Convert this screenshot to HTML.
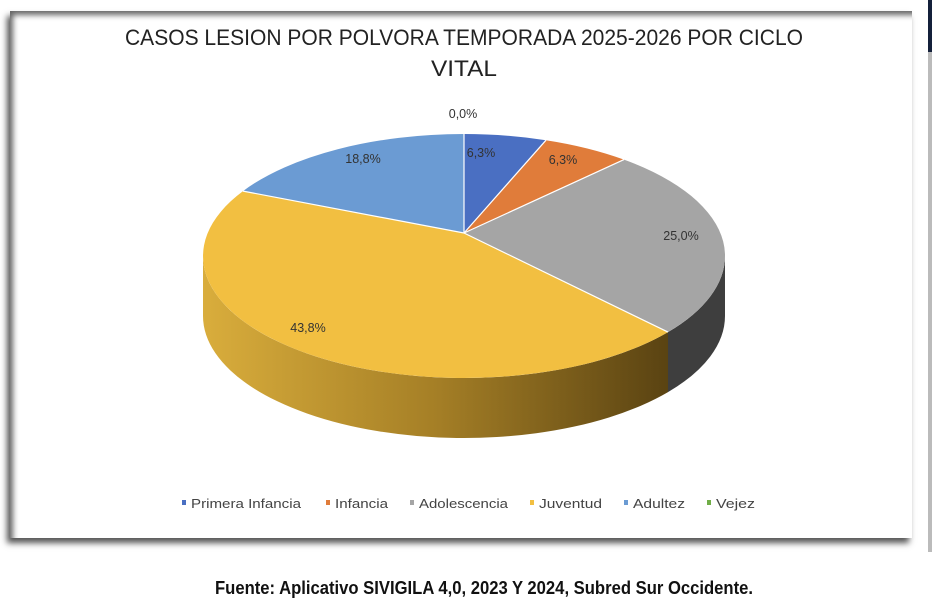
<!DOCTYPE html>
<html><head><meta charset="utf-8"><style>
html,body{margin:0;padding:0;background:#fff;width:932px;height:612px;overflow:hidden;position:relative;font-family:"Liberation Sans",sans-serif}
#frame{position:absolute;left:10px;top:11px;width:902px;height:527px;background:#fff;
box-shadow:inset 6px 7px 6px -3px #666, -3px 5px 6px #555;}
#strip{position:absolute;left:928px;top:0;width:4px;height:52px;background:#14203a}
#strip2{position:absolute;left:928px;top:52px;width:4px;height:500px;background:#bbb}
svg{position:absolute;left:0;top:0}
</style></head><body>
<div id="frame"></div><div id="strip"></div><div id="strip2"></div>
<svg width="932" height="612" viewBox="0 0 932 612">
<defs>
<linearGradient id="yg" x1="203" y1="0" x2="668" y2="0" gradientUnits="userSpaceOnUse">
<stop offset="0" stop-color="#d9ad3c"/><stop offset="0.5" stop-color="#a57f26"/><stop offset="1" stop-color="#5a4312"/>
</linearGradient>
</defs>
<text x="464" y="45" text-anchor="middle" font-size="22" fill="#222" textLength="678" lengthAdjust="spacingAndGlyphs">CASOS LESION POR POLVORA TEMPORADA 2025-2026 POR CICLO</text>
<text x="464" y="76" text-anchor="middle" font-size="22" fill="#222" textLength="66" lengthAdjust="spacingAndGlyphs">VITAL</text>
<path d="M725,256 A261,122 0 0 1 668,332.1 L668,392.1 A261,122 0 0 0 725,316 Z" fill="#3e3e3e"/>
<path d="M668,332.1 A261,122 0 0 1 203,256 L203,316 A261,122 0 0 0 668,392.1 Z" fill="url(#yg)"/>
<path d="M464,233 L464,134 A261,122 0 0 1 546,140.2 Z" fill="#4a6fc2"/>
<path d="M464,233 L546,140.2 A261,122 0 0 1 624,159.6 Z" fill="#e07c3a"/>
<path d="M464,233 L624,159.6 A261,122 0 0 1 668,332.1 Z" fill="#a5a5a5"/>
<path d="M464,233 L668,332.1 A261,122 0 0 1 243,191.1 Z" fill="#f2bf41"/>
<path d="M464,233 L243,191.1 A261,122 0 0 1 464,134 Z" fill="#6b9bd3"/>
<g stroke="#fff" stroke-width="1.2">
<line x1="464" y1="233" x2="464" y2="134"/><line x1="464" y1="233" x2="546" y2="140.2"/>
<line x1="464" y1="233" x2="624" y2="159.6"/><line x1="464" y1="233" x2="668" y2="332.1"/>
<line x1="464" y1="233" x2="243" y2="191.1"/>
</g>
<g font-size="12.5" fill="#333" text-anchor="middle">
<text x="463" y="118">0,0%</text>
<text x="481" y="157">6,3%</text>
<text x="563" y="164">6,3%</text>
<text x="681" y="240">25,0%</text>
<text x="308" y="332">43,8%</text>
<text x="363" y="163">18,8%</text>
</g>
<g font-size="13" fill="#444">
<rect x="182" y="500" width="4" height="5" fill="#4a6fc2"/><text x="191" y="508" textLength="110" lengthAdjust="spacingAndGlyphs">Primera Infancia</text>
<rect x="326" y="500" width="4" height="5" fill="#e07c3a"/><text x="335" y="508" textLength="53" lengthAdjust="spacingAndGlyphs">Infancia</text>
<rect x="410" y="500" width="4" height="5" fill="#a5a5a5"/><text x="419" y="508" textLength="89" lengthAdjust="spacingAndGlyphs">Adolescencia</text>
<rect x="530" y="500" width="4" height="5" fill="#f2bf41"/><text x="539" y="508" textLength="63" lengthAdjust="spacingAndGlyphs">Juventud</text>
<rect x="624" y="500" width="4" height="5" fill="#6b9bd3"/><text x="633" y="508" textLength="52" lengthAdjust="spacingAndGlyphs">Adultez</text>
<rect x="707" y="500" width="4" height="5" fill="#70ad47"/><text x="716" y="508" textLength="39" lengthAdjust="spacingAndGlyphs">Vejez</text>
</g>
<text x="484" y="594" text-anchor="middle" font-size="18" font-weight="bold" fill="#111" textLength="538" lengthAdjust="spacingAndGlyphs">Fuente: Aplicativo SIVIGILA 4,0, 2023 Y 2024, Subred Sur Occidente.</text>
</svg>
</body></html>
